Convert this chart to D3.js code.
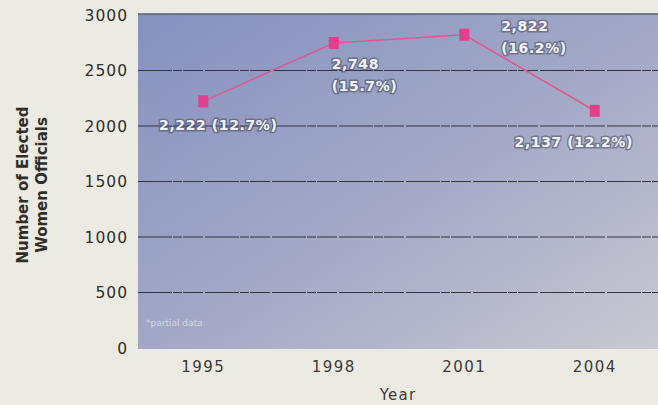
<!DOCTYPE html>
<html>
<head>
<meta charset="utf-8">
<script src="https://cdn.jsdelivr.net/npm/d3@7/dist/d3.min.js"></script>
<style>
  body { margin: 0; background: #ecebe3; }
  svg { display: block; }
</style>
</head>
<body>
<svg id="vis" width="658" height="405"></svg>
<script>
// data
const years = ["1995", "1998", "2001", "2004"]
const officials = [2222, 2748, 2822, 2137]
const labels = [
    ["2,222 (12.7%)"],
    ["2,748", "(15.7%)"],
    ["2,822", "(16.2%)"],
    ["2,137 (12.2%)"]
]
const yTicks = [0, 500, 1000, 1500, 2000, 2500, 3000]

const svg = d3.select("#vis")
const plotL = 138, plotR = 660, plotT = 14, plotB = 348

const x = d3.scalePoint().domain(years).range([plotL, plotR]).padding(0.5)
const y = d3.scaleLinear().domain([0, 3000]).range([plotB, plotT + 1])

// plot background gradient
const grad = svg.append("defs").append("linearGradient")
    .attr("id", "bg").attr("x1", 0).attr("y1", 0).attr("x2", 1).attr("y2", 1)
grad.append("stop").attr("offset", 0).attr("stop-color", "#8591c0")
grad.append("stop").attr("offset", 0.55).attr("stop-color", "#a5aac7")
grad.append("stop").attr("offset", 1).attr("stop-color", "#c9c9d1")

svg.append("rect")
    .attr("x", plotL).attr("y", plotT)
    .attr("width", 658 - plotL).attr("height", plotB - plotT + 1)
    .attr("fill", "url(#bg)")

// top border
svg.append("line")
    .attr("x1", plotL).attr("x2", 658)
    .attr("y1", plotT).attr("y2", plotT)
    .attr("stroke", "#5a5d6e").attr("stroke-width", 1.5)

// gridlines
svg.selectAll(".grid")
    .data(yTicks.filter(d => d > 0 && d < 3000))
    .join("line")
    .attr("class", "grid")
    .attr("x1", plotL).attr("x2", 658)
    .attr("y1", d => y(d)).attr("y2", d => y(d))
    .attr("stroke", "#34343e")
    .attr("stroke-width", 1.1)
    .attr("stroke-dasharray", "34 1 9 1 20 2")

// y axis tick labels
svg.selectAll(".ytick")
    .data(yTicks)
    .join("text")
    .attr("class", "ytick")
    .attr("x", 128)
    .attr("y", d => y(d))
    .attr("dy", "0.36em")
    .attr("text-anchor", "end")
    .attr("font-family", "DejaVu Sans")
    .attr("font-size", 15.5)
    .attr("letter-spacing", 1)
    .attr("fill", "#2e2e2a")
    .text(d => d)

// x axis tick labels
svg.selectAll(".xtick")
    .data(years)
    .join("text")
    .attr("class", "xtick")
    .attr("x", d => x(d))
    .attr("y", 372)
    .attr("text-anchor", "middle")
    .attr("font-family", "DejaVu Sans")
    .attr("font-size", 15)
    .attr("letter-spacing", 1.5)
    .attr("fill", "#3a3a36")
    .text(d => d)

svg.append("text")
    .attr("x", 398).attr("y", 400)
    .attr("text-anchor", "middle")
    .attr("font-family", "DejaVu Sans")
    .attr("font-size", 15)
    .attr("letter-spacing", 1.2)
    .attr("fill", "#3a3a36")
    .text("Year")

// y axis title, two lines
const yTitle = svg.append("text")
    .attr("transform", "translate(28,185) rotate(-90)")
    .attr("text-anchor", "middle")
    .attr("font-family", "DejaVu Sans")
    .attr("font-weight", "bold")
    .attr("font-size", 15)
    .attr("fill", "#2e2e2a")
yTitle.append("tspan").attr("x", 0).attr("dy", 0).text("Number of Elected")
yTitle.append("tspan").attr("x", 0).attr("dy", 19).text("Women Officials")

// footnote
svg.append("text")
    .attr("x", 146).attr("y", 326)
    .attr("font-family", "DejaVu Sans")
    .attr("font-size", 9)
    .attr("fill", "#e8eaf2")
    .attr("opacity", 0.7)
    .text("*partial data")

// line + markers
const pts = years.map((yr, i) => ({ year: yr, value: officials[i], label: labels[i] }))

svg.append("path")
    .datum(pts)
    .attr("fill", "none")
    .attr("stroke", "#dc5a96")
    .attr("stroke-width", 1.6)
    .attr("d", d3.line().x(d => x(d.year)).y(d => y(d.value)))

svg.selectAll(".marker")
    .data(pts)
    .join("rect")
    .attr("class", "marker")
    .attr("x", d => x(d.year) - 5)
    .attr("y", d => y(d.value) - 6)
    .attr("width", 10)
    .attr("height", 12)
    .attr("fill", "#e0408c")

// value labels: [dx, dy, anchor] relative to each marker
const labelPos = [[15, 29, "middle"], [-2, 26, "start"], [37, -4, "start"], [-21, 36, "middle"]]

const lab = svg.selectAll(".vlabel")
    .data(pts)
    .join("text")
    .attr("class", "vlabel")
    .attr("text-anchor", (d, i) => labelPos[i][2])
    .attr("font-family", "DejaVu Sans")
    .attr("font-weight", "bold")
    .attr("font-size", 14)
    .attr("letter-spacing", 0.6)
    .attr("fill", "#f4f4f8")
    .attr("stroke", "rgba(70,72,95,0.55)")
    .attr("stroke-width", 3)
    .attr("paint-order", "stroke")

lab.each(function (d, i) {
    const t = d3.select(this)
    const cx = x(d.year) + labelPos[i][0]
    const cy = y(d.value) + labelPos[i][1]
    d.label.forEach((s, j) => {
        t.append("tspan").attr("x", cx).attr("y", cy + j * 22).text(s)
    })
})
</script>
</body>
</html>
